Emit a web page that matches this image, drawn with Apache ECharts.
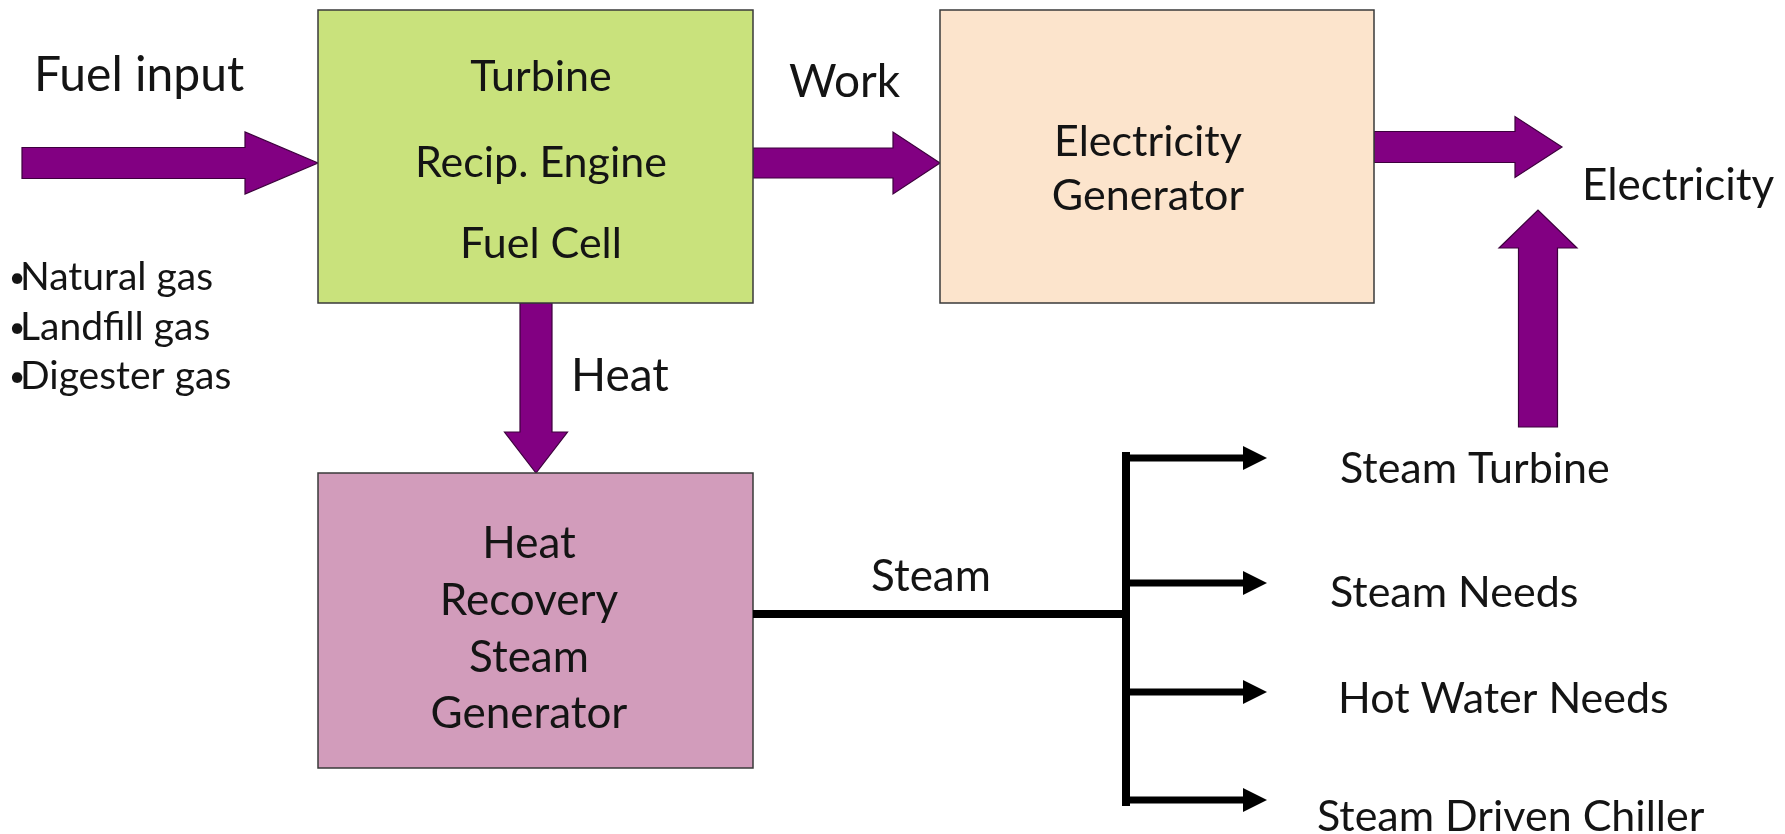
<!DOCTYPE html>
<html><head><meta charset="utf-8">
<script src="https://cdn.jsdelivr.net/npm/echarts@6/dist/echarts.min.js"></script>
<style>html,body{margin:0;padding:0;background:#fff}#c{width:1785px;height:834px}</style>
</head><body><div id="c"></div>
<script>
// ---- Diagram data (diagram units: x 0..1785, y 0..834 from top) ----
const boxNames  = ['Prime mover', 'Electricity generator', 'HRSG'];
const boxLines  = [['Turbine', 'Recip. Engine', 'Fuel Cell'], ['Electricity', 'Generator'], ['Heat', 'Recovery', 'Steam', 'Generator']];
const boxLeft   = [318, 940, 318];
const boxRight  = [753, 1374, 753];
const boxTop    = [10, 10, 473];
const boxBottom = [303, 303, 768];
const boxTextX  = [541, 1148, 529];
const boxLineY  = [[77, 163, 244], [142, 196], [544, 601, 658, 714]];

const flowNames = ['Fuel input', 'Work', 'Electricity', 'Steam turbine power', 'Heat'];
const flowFromX = [22, 753, 1374, 1538, 536];
const flowFromY = [163, 163, 147, 427, 303];
const flowToX   = [318, 940, 1562, 1538, 536];
const flowToY   = [163, 163, 147, 210, 473];

const labelTexts = ['Fuel input', 'Work', 'Heat', 'Electricity'];
const labelX     = [34, 789, 571, 1582];
const labelY     = [76, 82, 376, 186];

const fuelTypes  = ['Natural gas', 'Landfill gas', 'Digester gas'];
const fuelTypeX  = 9;
const fuelTypeY  = [277, 327, 376];

const steamLabel = 'Steam';
const steamLabelX = 931, steamLabelY = 577;
const steamSourceX = 753, steamY = 614, busX = 1126, busTop = 455, busBottom = 802, branchTipX = 1267;

const outputNames = ['Steam Turbine', 'Steam Needs', 'Hot Water Needs', 'Steam Driven Chiller'];
const outputY     = [458, 583, 692, 800];
const outputTextX = [1340, 1330, 1338, 1317];
const outputTextY = [469, 593, 699, 817];

// ---- Styles ----
const FONT = 'Lato, "Open Sans", sans-serif';
const TEXT = '#141414';
const boxFill = ['#c9e27c', '#fce4cc', '#d29cbb'];
const boxFontSize = [43, 43, 44];
const flowShaft = [31, 30, 31, 39, 32];
const flowHead  = [62, 62, 61, 78, 63];
const flowHeadLen = [73, 47, 47, 38, 41];
const labelSize = [48, 46, 46, 44];
const PURPLE = '#820082';

const chart = echarts.init(document.getElementById('c'), null, {renderer: 'canvas'});

function boxItem(params, api) {
  const i = params.dataIndex;
  const p0 = api.coord([boxLeft[i], boxTop[i]]);
  const p1 = api.coord([boxRight[i], boxBottom[i]]);
  const children = [{
    type: 'rect',
    shape: {x: p0[0], y: p0[1], width: p1[0] - p0[0], height: p1[1] - p0[1]},
    style: {fill: boxFill[i], stroke: '#3a3a3a', lineWidth: 1.5}
  }];
  boxLines[i].forEach((t, k) => {
    const q = api.coord([boxTextX[i], boxLineY[i][k]]);
    children.push({type: 'text', style: {text: t, x: q[0], y: q[1], align: 'center', verticalAlign: 'middle',
      font: boxFontSize[i] + 'px ' + FONT, fill: TEXT}});
  });
  return {type: 'group', children};
}

function flowItem(params, api) {
  const i = params.dataIndex;
  const a = api.coord([flowFromX[i], flowFromY[i]]);
  const b = api.coord([flowToX[i], flowToY[i]]);
  const dx = b[0] - a[0], dy = b[1] - a[1];
  const L = Math.hypot(dx, dy);
  const ux = dx / L, uy = dy / L, nx = -uy, ny = ux;
  const sw = flowShaft[i] / 2, hw = flowHead[i] / 2, h = flowHeadLen[i];
  const bx = b[0] - ux * h, by = b[1] - uy * h;
  const pts = [
    [a[0] + nx * sw, a[1] + ny * sw], [bx + nx * sw, by + ny * sw], [bx + nx * hw, by + ny * hw],
    [b[0], b[1]],
    [bx - nx * hw, by - ny * hw], [bx - nx * sw, by - ny * sw], [a[0] - nx * sw, a[1] - ny * sw]
  ];
  return {type: 'polygon', shape: {points: pts}, style: {fill: PURPLE, stroke: '#3d003d', lineWidth: 1.2}};
}

function labelItem(params, api) {
  const i = params.dataIndex;
  const q = api.coord([labelX[i], labelY[i]]);
  return {type: 'text', style: {text: labelTexts[i], x: q[0], y: q[1], align: 'left', verticalAlign: 'middle',
    font: labelSize[i] + 'px ' + FONT, fill: TEXT}};
}

function fuelItem(params, api) {
  const i = params.dataIndex;
  const q = api.coord([fuelTypeX, fuelTypeY[i]]);
  return {type: 'group', children: [
    {type: 'text', style: {text: '•', x: q[0], y: q[1] + 1, align: 'left', verticalAlign: 'middle',
      font: '28px ' + FONT, fill: TEXT}},
    {type: 'text', style: {text: fuelTypes[i], x: q[0] + 11, y: q[1], align: 'left', verticalAlign: 'middle',
      font: '39px ' + FONT, fill: TEXT}}
  ]};
}

function trunkItem(params, api) {
  const s = api.coord([steamSourceX, steamY]);
  const j = api.coord([busX, steamY]);
  const t = api.coord([busX, busTop]);
  const bt = api.coord([busX, busBottom]);
  const lbl = api.coord([steamLabelX, steamLabelY]);
  return {type: 'group', children: [
    {type: 'line', shape: {x1: s[0], y1: s[1], x2: j[0] + 4, y2: j[1]}, style: {stroke: '#000', lineWidth: 8}},
    {type: 'line', shape: {x1: t[0], y1: t[1] - 3, x2: bt[0], y2: bt[1] + 4}, style: {stroke: '#000', lineWidth: 8}},
    {type: 'text', style: {text: steamLabel, x: lbl[0], y: lbl[1], align: 'center', verticalAlign: 'middle',
      font: '44px ' + FONT, fill: TEXT}}
  ]};
}

function branchItem(params, api) {
  const i = params.dataIndex;
  const a = api.coord([busX, outputY[i]]);
  const b = api.coord([branchTipX, outputY[i]]);
  const q = api.coord([outputTextX[i], outputTextY[i]]);
  const hl = 24, hw = 12;
  return {type: 'group', children: [
    {type: 'line', shape: {x1: a[0], y1: a[1], x2: b[0] - hl + 1, y2: b[1]}, style: {stroke: '#000', lineWidth: 7}},
    {type: 'polygon', shape: {points: [[b[0] - hl, b[1] - hw], [b[0], b[1]], [b[0] - hl, b[1] + hw]]}, style: {fill: '#000'}},
    {type: 'text', style: {text: outputNames[i], x: q[0], y: q[1], align: 'left', verticalAlign: 'middle',
      font: '43px ' + FONT, fill: TEXT}}
  ]};
}

chart.setOption({
  backgroundColor: '#fff',
  animation: false,
  grid: {left: 0, right: 0, top: 0, bottom: 0},
  xAxis: {type: 'value', min: 0, max: 1785, show: false},
  yAxis: {type: 'value', min: 0, max: 834, inverse: true, show: false},
  series: [
    {type: 'custom', name: 'flows', renderItem: flowItem, clip: false, data: flowNames.map((n, i) => ({name: n, value: [flowToX[i], flowToY[i]]}))},
    {type: 'custom', name: 'boxes', renderItem: boxItem, clip: false, data: boxNames.map((n, i) => ({name: n, value: [boxLeft[i], boxTop[i]]}))},
    {type: 'custom', name: 'labels', renderItem: labelItem, clip: false, data: labelTexts.map((n, i) => ({name: n, value: [labelX[i], labelY[i]]}))},
    {type: 'custom', name: 'fuels', renderItem: fuelItem, clip: false, data: fuelTypes.map((n, i) => ({name: n, value: [fuelTypeX, fuelTypeY[i]]}))},
    {type: 'custom', name: 'steam', renderItem: trunkItem, clip: false, data: [{name: steamLabel, value: [busX, steamY]}]},
    {type: 'custom', name: 'outputs', renderItem: branchItem, clip: false, data: outputNames.map((n, i) => ({name: n, value: [branchTipX, outputY[i]]}))}
  ]
});
</script></body></html>
